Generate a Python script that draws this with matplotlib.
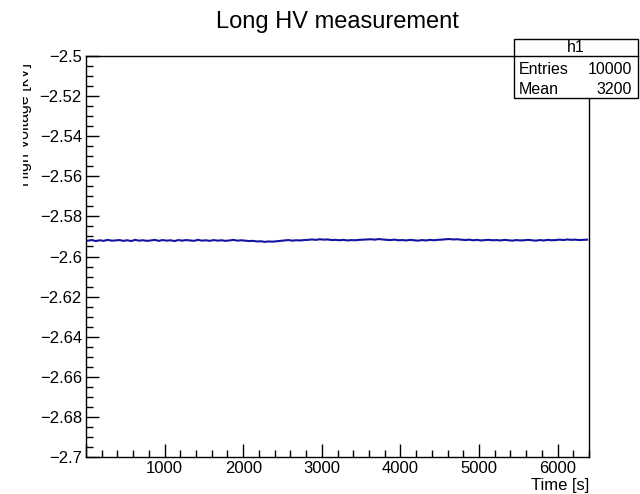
import numpy as np
import matplotlib
matplotlib.use("Agg")
import matplotlib.pyplot as plt
from matplotlib.ticker import MultipleLocator, FuncFormatter

plt.rcParams['font.family'] = ['Liberation Sans', 'DejaVu Sans']

title = "Long HV measurement"
x_label = "Time [s]"
y_label = "High Voltage [kV]"
hist_name = "h1"
entries = 10000
mean = 3200
t_step = 50.0
voltage = [
    -2.5921, -2.5918, -2.5923, -2.5919, -2.5922, -2.5917, -2.5921, -2.5920,
    -2.5918, -2.5922, -2.5919, -2.5923, -2.5917, -2.5921, -2.5919, -2.5922,
    -2.5920, -2.5917, -2.5922, -2.5918, -2.5921, -2.5919, -2.5923, -2.5918,
    -2.5921, -2.5918, -2.5920, -2.5922, -2.5917, -2.5921, -2.5919, -2.5922,
    -2.5918, -2.5921, -2.5919, -2.5922, -2.5920, -2.5917, -2.5921, -2.5919,
    -2.5921, -2.5923, -2.5922, -2.5925, -2.5924, -2.5927, -2.5925, -2.5926,
    -2.5924, -2.5922, -2.5920, -2.5918, -2.5921, -2.5919, -2.5920, -2.5918,
    -2.5917, -2.5915, -2.5917, -2.5914, -2.5916, -2.5915, -2.5918, -2.5917,
    -2.5919, -2.5917, -2.5920, -2.5918, -2.5919, -2.5917, -2.5916, -2.5915,
    -2.5914, -2.5916, -2.5913, -2.5915, -2.5917, -2.5918, -2.5916, -2.5919,
    -2.5918, -2.5920, -2.5917, -2.5919, -2.5921, -2.5918, -2.5920, -2.5917,
    -2.5919, -2.5917, -2.5916, -2.5914, -2.5913, -2.5915, -2.5914, -2.5916,
    -2.5918, -2.5916, -2.5919, -2.5917, -2.5920, -2.5918, -2.5917, -2.5919,
    -2.5918, -2.5920, -2.5917, -2.5919, -2.5921, -2.5918, -2.5920, -2.5919,
    -2.5917, -2.5919, -2.5921, -2.5918, -2.5920, -2.5917, -2.5919, -2.5918,
    -2.5916, -2.5918, -2.5915, -2.5917, -2.5916, -2.5918, -2.5917, -2.5916,
]
x_range = (0, 6400)
y_range = (-2.7, -2.5)

time = (np.arange(len(voltage)) + 0.5) * t_step

W, H = 640, 494
fig = plt.figure(figsize=(W / 100, H / 100), dpi=100)
L, R, T, B = 86, 589, 56, 457
ax = fig.add_axes([L / W, 1 - B / H, (R - L) / W, (B - T) / H])

ax.plot(time, voltage, color='#1414a0', lw=1.5)
ax.set_xlim(*x_range)
ax.set_ylim(*y_range)

ax.xaxis.set_major_locator(MultipleLocator(1000))
ax.xaxis.set_minor_locator(MultipleLocator(200))
ax.yaxis.set_major_locator(MultipleLocator(0.02))
ax.yaxis.set_minor_locator(MultipleLocator(0.005))

def xfmt(v, pos):
    if abs(v) < 1e-9:
        return ""
    return "%d" % round(v)

def yfmt(v, pos):
    s = "%g" % round(v, 4)
    return s.replace("-", "\u2212")

ax.xaxis.set_major_formatter(FuncFormatter(xfmt))
ax.yaxis.set_major_formatter(FuncFormatter(yfmt))
ax.tick_params(which='both', direction='in', top=False, right=False, width=1, colors='black')
ax.tick_params(which='major', length=9.4, labelsize=12)
ax.tick_params(which='minor', length=5)
ax.tick_params(axis='x', which='major', pad=3)
ax.tick_params(axis='y', which='major', pad=3)
for sp in ax.spines.values():
    sp.set_linewidth(1)

# x label right aligned
fig.text(R / W, 1 - 490 / H, x_label, ha='right', va='baseline', fontsize=12)

# y label, rotated, clipped on the left as in the reference
yl = fig.text(29 / W, 1 - 63 / H, y_label, rotation=90, ha='right', va='baseline',
              fontsize=11.5, rotation_mode='anchor')
clip_rect = plt.Rectangle((23 / W, 0), 0.2, 1, transform=fig.transFigure)
yl.set_clip_path(clip_rect)

# title
fig.text(337 / W, 1 - 28 / H, title, ha='center', va='baseline', fontsize=17)

# stats box
bx0, bx1, by0, by1, bhy = 514, 638, 39, 98, 56
box = plt.Rectangle((bx0 / W, 1 - by1 / H), (bx1 - bx0) / W, (by1 - by0) / H,
                    transform=fig.transFigure, fill=True, facecolor='white',
                    edgecolor='black', lw=1)
fig.add_artist(box)
fig.add_artist(plt.Line2D([bx0 / W, bx1 / W], [1 - bhy / H, 1 - bhy / H],
                          transform=fig.transFigure, color='black', lw=1))
fig.text((bx0 + bx1) / 2 / W, 1 - 52.5 / H, hist_name, ha='center', va='baseline', fontsize=11.5)
fig.text(519 / W, 1 - 74 / H, "Entries", ha='left', va='baseline', fontsize=11.5)
fig.text(632 / W, 1 - 74 / H, "%d" % entries, ha='right', va='baseline', fontsize=11.5)
fig.text(519 / W, 1 - 94 / H, "Mean", ha='left', va='baseline', fontsize=11.5)
fig.text(632 / W, 1 - 94 / H, "%d" % mean, ha='right', va='baseline', fontsize=11.5)

fig.savefig("out.png", dpi=100)
